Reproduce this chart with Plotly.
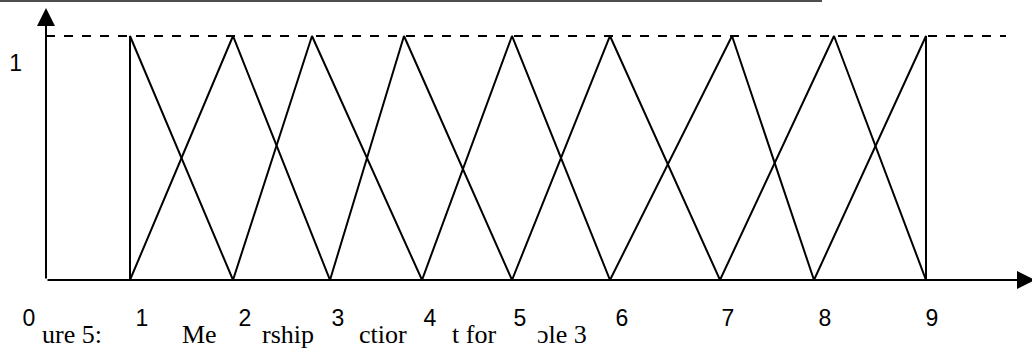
import plotly.graph_objects as go

# membership triangles: peak positions and where the feet sit on the axis
peaks = [0.84, 1.87, 2.66, 3.58, 4.66, 5.64, 6.86, 7.88, 8.80]
feet = [0.84, 1.87, 2.84, 3.76, 4.66, 5.64, 6.74, 7.68, 8.80]

tick_pos = [-0.17, 0.96, 1.99, 2.92, 3.84, 4.74, 5.76, 6.82, 7.79, 8.86]
tick_text = ['0', '1', '2', '3', '4', '5', '6', '7', '8', '9']

# caption, only the pieces that show between the tick numbers
caption_x = [-0.06, 1.34, 2.14, 3.11, 4.04, 4.89]
caption_text = ['ure 5:', 'Me', 'rship', 'ctior', 't for', 'ɔle 3']

fig = go.Figure()

n = len(peaks)
for i in range(n):
    left = feet[i - 1] if i > 0 else peaks[0]
    right = feet[i + 1] if i < n - 1 else peaks[-1]
    fig.add_trace(go.Scatter(x=[left, peaks[i], right], y=[0, 1, 0],
                             mode='lines', line=dict(color='black', width=2),
                             hoverinfo='skip', showlegend=False))

# dashed level of full membership
fig.add_trace(go.Scatter(x=[0, 9.60], y=[1, 1], mode='lines',
                         line=dict(color='black', width=2, dash='9px,9px'),
                         hoverinfo='skip', showlegend=False))

# axes drawn as arrows
fig.add_annotation(x=9.89, y=0, ax=0, ay=0, xref='x', yref='y', axref='x', ayref='y',
                   text='', showarrow=True, arrowhead=2, arrowsize=1.8,
                   arrowwidth=2, arrowcolor='black')
fig.add_annotation(x=0, y=1.115, ax=0, ay=0, xref='x', yref='y', axref='x', ayref='y',
                   text='', showarrow=True, arrowhead=2, arrowsize=1.8,
                   arrowwidth=2, arrowcolor='black')

fig.add_shape(type='line', x0=-0.46, x1=7.76, y0=1.143, y1=1.143,
              line=dict(color='#4d4d4d', width=2))

for cx, ct in zip(caption_x, caption_text):
    fig.add_annotation(x=cx, y=-0.193, xref='x', yref='paper', text=ct, showarrow=False,
                       xanchor='left', yanchor='middle',
                       font=dict(family='Liberation Serif', size=26, color='black'))

fig.update_xaxes(range=[-0.46, 9.86], showgrid=False, zeroline=False, showline=False,
                 tickvals=tick_pos, ticktext=tick_text, ticks='',
                 ticklabelstandoff=22,
                 tickfont=dict(family='Liberation Sans', size=23, color='black'))
fig.update_yaxes(range=[0, 1.1475], showgrid=False, zeroline=False, showline=False,
                 anchor='free', position=46 / 1032,
                 tickvals=[0.89], ticktext=['1'], ticks='', ticklabelstandoff=24,
                 tickfont=dict(family='Liberation Sans', size=23, color='black'))

fig.update_layout(width=1032, height=352,
                  margin=dict(l=0, r=0, t=0, b=72, autoexpand=False),
                  paper_bgcolor='white', plot_bgcolor='white')

fig.write_html("out.html", config={'displayModeBar': False},
               post_script="document.body.style.margin = '0px';")
